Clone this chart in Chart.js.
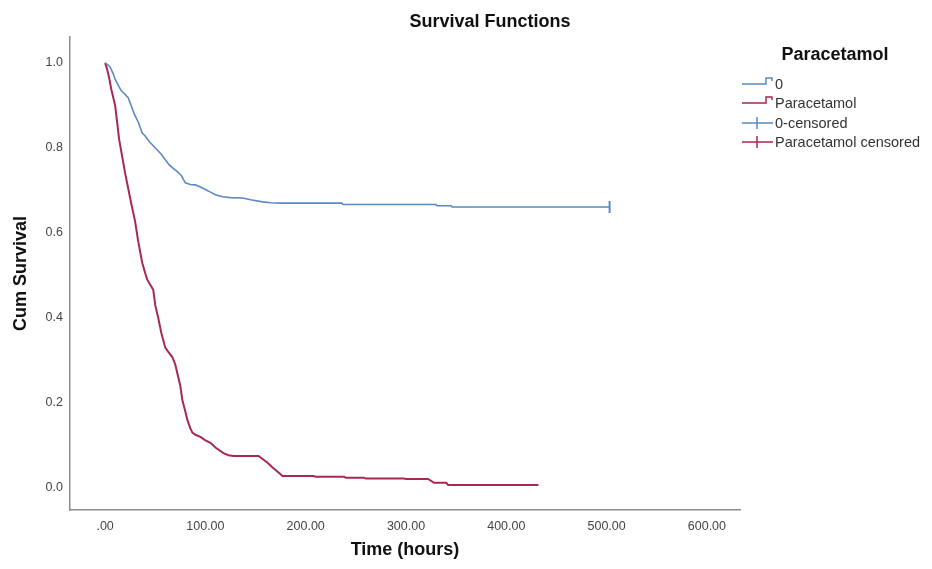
<!DOCTYPE html>
<html>
<head>
<meta charset="utf-8">
<script src="https://cdn.jsdelivr.net/npm/chart.js@4/dist/chart.umd.min.js"></script>
<style>
    html, body { margin: 0; padding: 0; background: #fff; }
    #wrap { width: 932px; height: 569px; }
</style>
</head>
<body>
<div id="wrap"><canvas id="survival" width="932" height="569"></canvas></div>
<script>
// group 0 (no paracetamol); flat stretches keep their own end points
const noParaTimes = [0, 3, 5, 8, 10, 13, 16, 19, 23, 26, 29, 33, 37, 40, 44, 48, 52, 56, 60, 64, 68, 72, 76, 80, 85, 90, 95, 100, 105, 110, 117, 125, 137, 145, 157, 165, 175, 236, 237, 330, 331, 345, 346, 503];
const noParaSurv = [1.0, 0.995, 0.99, 0.975, 0.962, 0.948, 0.935, 0.928, 0.918, 0.9, 0.88, 0.861, 0.835, 0.828, 0.815, 0.805, 0.795, 0.785, 0.772, 0.76, 0.752, 0.744, 0.735, 0.718, 0.714, 0.713, 0.708, 0.702, 0.696, 0.69, 0.685, 0.683, 0.682, 0.678, 0.673, 0.671, 0.67, 0.67, 0.667, 0.667, 0.664, 0.664, 0.661, 0.661];

// paracetamol group
const paraTimes = [0, 2, 4, 6, 8, 10, 12, 14, 17, 20, 23, 26, 30, 33, 37, 40, 42, 45, 48, 50, 53, 56, 60, 63, 67, 70, 72, 75, 77, 80, 82, 85, 87, 90, 95, 100, 105, 110, 118, 123, 128, 153, 157, 162, 167, 172, 177, 208, 210, 238, 240, 258, 260, 298, 300, 322, 328, 340, 342, 432];
const paraSurv = [1.0, 0.985, 0.965, 0.94, 0.92, 0.9, 0.86, 0.82, 0.78, 0.74, 0.705, 0.67, 0.626, 0.58, 0.53, 0.505, 0.49, 0.478, 0.466, 0.43, 0.4, 0.365, 0.33, 0.32, 0.308, 0.29, 0.27, 0.24, 0.207, 0.18, 0.16, 0.14, 0.13, 0.125, 0.12, 0.112, 0.106, 0.095, 0.082, 0.077, 0.075, 0.075, 0.068, 0.059, 0.048, 0.038, 0.028, 0.028, 0.026, 0.026, 0.024, 0.024, 0.022, 0.022, 0.021, 0.021, 0.012, 0.012, 0.007, 0.007];

const censoredTimes = [503];
const censoredSurv = [0.661];

const xTicks = [0, 100, 200, 300, 400, 500, 600];
const xTickLabels = ['.00', '100.00', '200.00', '300.00', '400.00', '500.00', '600.00'];
const yTicks = [0, 0.2, 0.4, 0.6, 0.8, 1.0];
const yTickLabels = ['0.0', '0.2', '0.4', '0.6', '0.8', '1.0'];

const legendTitle = 'Paracetamol';
const legendLabels = ['0', 'Paracetamol', '0-censored', 'Paracetamol censored'];

const blue = '#5a89c4';
const red = '#a8294f';
const sans = "'Liberation Sans', Arial, sans-serif";

const toPoints = (xs, ys) => xs.map((x, i) => ({ x, y: ys[i] }));

const textPlugin = {
    id: 'sketchText',
    afterDraw(chart) {
        const { ctx, chartArea: a } = chart;
        ctx.save();
        ctx.fillStyle = '#111';
        ctx.textAlign = 'center';
        ctx.textBaseline = 'middle';
        ctx.font = `bold 18px ${sans}`;
        ctx.fillText('Survival Functions', 490, 22);
        ctx.fillText('Time (hours)', (a.left + a.right) / 2, 550);
        ctx.fillText(legendTitle, 835, 55);

        ctx.save();
        ctx.translate(21, (a.top + a.bottom) / 2);
        ctx.rotate(-Math.PI / 2);
        ctx.fillText('Cum Survival', 0, 0);
        ctx.restore();

        // legend
        const rows = [84, 103, 123, 142];
        const colors = [blue, red, blue, red];
        ctx.font = `14.5px ${sans}`;
        ctx.textAlign = 'left';
        ctx.fillStyle = '#333';
        ctx.lineWidth = 1.5;
        legendLabels.forEach((label, i) => {
            const y = rows[i];
            ctx.strokeStyle = colors[i];
            ctx.beginPath();
            if (i < 2) {
                ctx.moveTo(742, y);
                ctx.lineTo(766, y);
                ctx.lineTo(766, y - 6);
                ctx.lineTo(772, y - 6);
                ctx.lineTo(772, y - 3);
            } else {
                ctx.moveTo(742, y);
                ctx.lineTo(773, y);
                ctx.moveTo(757, y - 6);
                ctx.lineTo(757, y + 6);
            }
            ctx.stroke();
            ctx.fillText(label, 775, y + 1);
        });
        ctx.restore();
    },
};

new Chart(document.getElementById('survival'), {
    type: 'scatter',
    data: {
        datasets: [
            {
                label: '0',
                data: toPoints(noParaTimes, noParaSurv),
                showLine: true,
                borderColor: blue,
                borderWidth: 1.6,
                pointRadius: 0,
            },
            {
                label: 'Paracetamol',
                data: toPoints(paraTimes, paraSurv),
                showLine: true,
                borderColor: red,
                borderWidth: 2,
                pointRadius: 0,
            },
            {
                label: '0-censored',
                data: toPoints(censoredTimes, censoredSurv),
                pointStyle: 'line',
                rotation: 90,
                pointRadius: 6,
                borderColor: blue,
                borderWidth: 2,
            },
        ],
    },
    options: {
        responsive: false,
        animation: false,
        layout: { padding: { left: 0, top: 37, right: 192, bottom: 0 } },
        plugins: {
            legend: { display: false },
            tooltip: { enabled: false },
        },
        scales: {
            x: {
                type: 'linear',
                min: -35,
                max: 633,
                afterBuildTicks: (scale) => {
                    scale.ticks = xTicks.map((value) => ({ value }));
                },
                afterFit: (scale) => {
                    scale.height = 59;
                },
                grid: { display: false, drawTicks: false },
                border: { display: true, color: '#8c8c8c', width: 1.5 },
                ticks: {
                    padding: 9,
                    maxRotation: 0,
                    autoSkip: false,
                    font: { family: sans, size: 12.5 },
                    color: '#444',
                    callback: (v) => xTickLabels[xTicks.indexOf(v)] ?? '',
                },
            },
            y: {
                type: 'linear',
                min: -0.052,
                max: 1.061,
                afterBuildTicks: (scale) => {
                    scale.ticks = yTicks.map((value) => ({ value }));
                },
                afterFit: (scale) => {
                    scale.width = 70;
                },
                grid: { display: false, drawTicks: false },
                border: { display: true, color: '#8c8c8c', width: 1.5 },
                ticks: {
                    padding: 7,
                    autoSkip: false,
                    font: { family: sans, size: 12.5 },
                    color: '#444',
                    callback: (v) => yTickLabels[yTicks.indexOf(v)] ?? '',
                },
            },
        },
    },
    plugins: [textPlugin],
});
</script>
</body>
</html>
